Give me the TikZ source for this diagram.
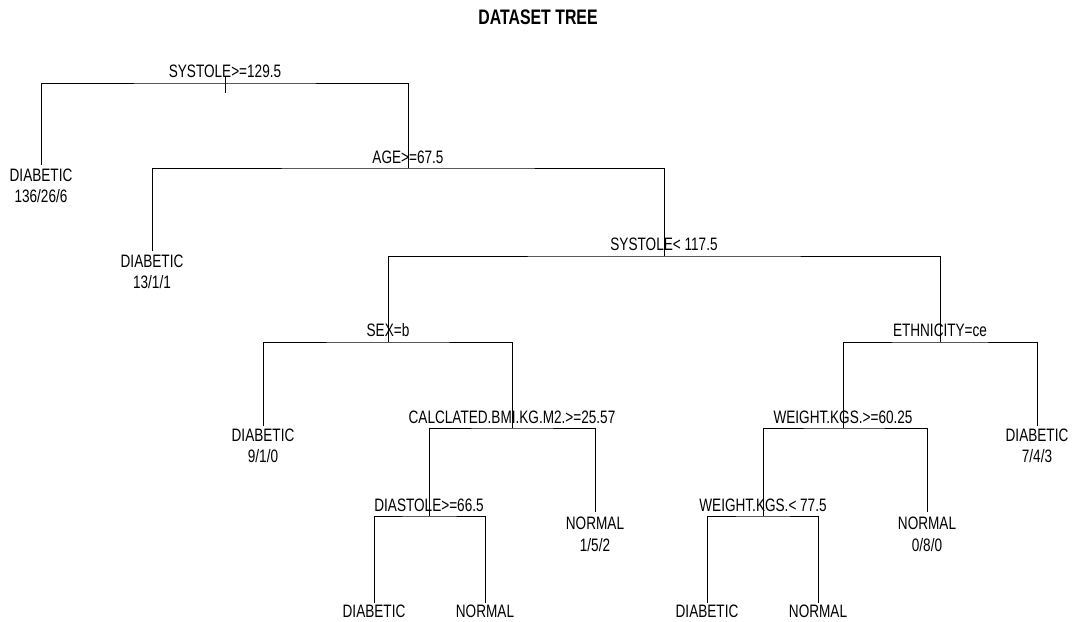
\documentclass[tikz,border=0pt]{standalone}
\usepackage{fontspec}
\setmainfont[FakeStretch=0.755]{Liberation Sans}
\begin{document}
\begin{tikzpicture}[x=1pt,y=-1pt,
  lab/.style={font=\fontsize{18}{20}\selectfont,inner sep=0pt,anchor=center},
  ttl/.style={font=\bfseries\fontsize{21}{24}\selectfont,inner sep=0pt},
  edge/.style={draw=black,line width=0.9pt}]
\useasboundingbox (0,0) rectangle (1076,621);
\node[ttl] (title) at (538,17) {DATASET TREE};
% split points
\coordinate (n1) at (225,83);
\coordinate (n1a) at (225,76);
\coordinate (n1b) at (225,93);
\coordinate (n3) at (408,168);
\coordinate (n7) at (664,256);
\coordinate (n14) at (388,342);
\coordinate (n15) at (940,342);
\coordinate (n29) at (512,428);
\coordinate (n30) at (843,428);
\coordinate (n58) at (429,516);
\coordinate (n60) at (763,516);
% leaf ends
\coordinate (n2) at (41,165);
\coordinate (n6) at (152,251);
\coordinate (n28) at (263,426);
\coordinate (n31) at (1037,426);
\coordinate (n59) at (595,512);
\coordinate (n61) at (927,512);
\coordinate (n116) at (374,603);
\coordinate (n117) at (485,603);
\coordinate (n120) at (707,603);
\coordinate (n121) at (818,603);
% edges
\draw[edge] (n1a) -- (n1b);
\draw[edge] (n2) |- (n1) -| (n3);
\draw[edge] (n6) |- (n3) -| (n7);
\draw[edge] (n14) |- (n7) -| (n15);
\draw[edge] (n28) |- (n14) -| (n29);
\draw[edge] (n30) |- (n15) -| (n31);
\draw[edge] (n58) |- (n29) -| (n59);
\draw[edge] (n60) |- (n30) -| (n61);
\draw[edge] (n116) |- (n58) -| (n117);
\draw[edge] (n120) |- (n60) -| (n121);
% split labels
\node[lab] (s1) at (225,71) {SYSTOLE>=129.5};
\node[lab] (s3) at (408,157) {AGE>=67.5};
\node[lab] (s7) at (664,244) {SYSTOLE< 117.5};
\node[lab] (s14) at (388,330) {SEX=b};
\node[lab] (s15) at (940,330) {ETHNICITY=ce};
\node[lab] (s29) at (512,417) {CALCLATED.BMI.KG.M2.>=25.57};
\node[lab] (s30) at (843,417) {WEIGHT.KGS.>=60.25};
\node[lab] (s58) at (429,505) {DIASTOLE>=66.5};
\node[lab] (s60) at (763,505) {WEIGHT.KGS.< 77.5};
% leaf labels
\node[lab] (c2) at (41,175) {DIABETIC};
\node[lab] (v2) at (41,196) {136/26/6};
\node[lab] (c6) at (152,261) {DIABETIC};
\node[lab] (v6) at (152,282) {13/1/1};
\node[lab] (c28) at (263,435) {DIABETIC};
\node[lab] (v28) at (263,456) {9/1/0};
\node[lab] (c31) at (1037,435) {DIABETIC};
\node[lab] (v31) at (1037,456) {7/4/3};
\node[lab] (c59) at (595,523) {NORMAL};
\node[lab] (v59) at (595,545) {1/5/2};
\node[lab] (c61) at (927,523) {NORMAL};
\node[lab] (v61) at (927,545) {0/8/0};
\node[lab] (c116) at (374,611) {DIABETIC};
\node[lab] (c117) at (485,611) {NORMAL};
\node[lab] (c120) at (707,611) {DIABETIC};
\node[lab] (c121) at (818,611) {NORMAL};
\end{tikzpicture}
\end{document}
